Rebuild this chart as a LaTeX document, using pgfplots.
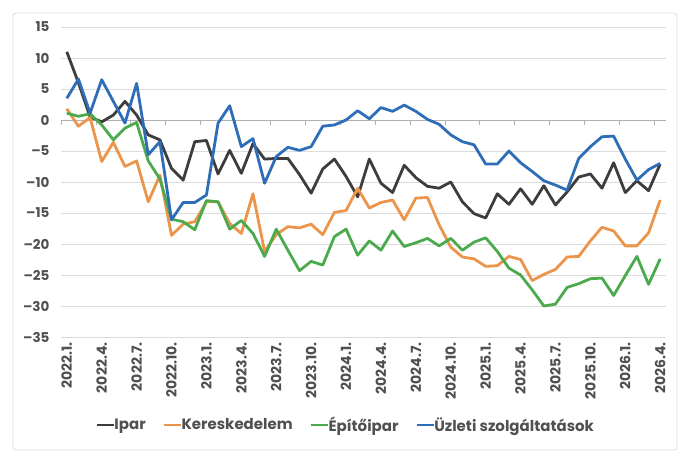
\documentclass[border=0pt]{standalone}
\usepackage{fontspec}
\setmainfont{Poppins}
\usepackage{pgfplots}
\usepackage{pgfplotstable}
\pgfplotsset{compat=1.18}
\definecolor{cIpar}{HTML}{3D3D3D}
\definecolor{cKer}{HTML}{EC954A}
\definecolor{cEpit}{HTML}{4CAA4E}
\definecolor{cUzl}{HTML}{2E6DB8}
\definecolor{gridc}{HTML}{DCDCDC}
\definecolor{labc}{HTML}{505050}
\pgfplotstableread{
i ipar ker epit uzl
0 11.0 1.8 1.1 3.5
1 6.0 -1.0 0.6 6.6
2 0.5 0.4 1.0 1.1
3 -0.3 -6.7 -0.8 6.5
4 0.8 -3.6 -3.2 3.0
5 3.0 -7.5 -1.3 -0.5
6 0.8 -6.6 -0.4 5.9
7 -2.4 -13.2 -6.6 -5.6
8 -3.2 -8.9 -9.5 -3.5
9 -7.8 -18.6 -16.0 -16.1
10 -9.7 -16.8 -16.4 -13.3
11 -3.5 -16.4 -17.7 -13.3
12 -3.3 -13.2 -13.0 -12.1
13 -8.7 -13.2 -13.2 -0.5
14 -4.9 -16.7 -17.6 2.3
15 -8.6 -18.3 -16.2 -4.3
16 -3.8 -11.9 -18.3 -3.0
17 -6.3 -21.2 -22.0 -10.2
18 -6.2 -18.5 -17.6 -5.9
19 -6.2 -17.2 -21.0 -4.4
20 -8.8 -17.4 -24.3 -4.9
21 -11.8 -16.8 -22.8 -4.3
22 -7.9 -18.5 -23.4 -1.0
23 -6.3 -14.9 -18.8 -0.8
24 -9.1 -14.6 -17.6 0.0
25 -12.4 -11.0 -21.8 1.5
26 -6.3 -14.2 -19.5 0.2
27 -10.2 -13.3 -21.0 2.0
28 -11.7 -12.9 -17.9 1.4
29 -7.3 -16.1 -20.4 2.4
30 -9.3 -12.6 -19.8 1.4
31 -10.7 -12.5 -19.1 0.1
32 -11.0 -16.9 -20.3 -0.7
33 -10.0 -20.5 -19.1 -2.4
34 -13.2 -22.1 -21.0 -3.5
35 -15.1 -22.4 -19.7 -4.0
36 -15.8 -23.6 -19.0 -7.1
37 -11.9 -23.5 -21.2 -7.1
38 -13.6 -22.0 -23.9 -5.0
39 -11.1 -22.5 -25.0 -6.9
40 -13.6 -25.9 -27.4 -8.3
41 -10.6 -24.9 -30.0 -9.8
42 -13.7 -24.1 -29.7 -10.5
43 -11.6 -22.1 -27.0 -11.3
44 -9.2 -22.0 -26.4 -6.2
45 -8.7 -19.5 -25.6 -4.3
46 -11.0 -17.3 -25.5 -2.7
47 -6.9 -17.9 -28.3 -2.6
48 -11.7 -20.3 -25.1 -6.3
49 -9.8 -20.3 -22.0 -9.7
50 -11.4 -18.2 -26.5 -8.0
51 -7.1 -12.9 -22.4 -7.0
}\data
\begin{document}
\begin{tikzpicture}
\draw[color=gridc, line width=0.8pt, rounded corners=3pt] (13pt,14pt) rectangle (677pt,451pt);
\begin{axis}[
  at={(61pt,127pt)}, anchor=south west,
  scale only axis, width=605pt, height=310pt,
  xmin=-0.5, xmax=51.5, ymin=-35, ymax=15,
  axis line style={draw=none},
  major tick length=0pt,
  ymajorgrids, grid style={color=gridc, line width=0.8pt},
  ytick={-35,-30,...,15},
  yticklabels={--35,--30,--25,--20,--15,--10,--5,0,5,10,15},
  y tick label style={font=\fontsize{13.5}{15}\selectfont\bfseries, text=labc, xshift=-8pt},
  xtick={0,3,...,51},
  xticklabels={2022.1.,2022.4.,2022.7.,2022.10.,2023.1.,2023.4.,2023.7.,2023.10.,2024.1.,2024.4.,2024.7.,2024.10.,2025.1.,2025.4.,2025.7.,2025.10.,2026.1.,2026.4.},
  x tick label style={rotate=90, anchor=east, font=\fontsize{14}{15}\selectfont\bfseries, text=labc, xshift=-2pt},
  legend columns=4,
  legend style={at={(axis description cs:0.47,-0.284)}, anchor=center, draw=none, fill=none,
    font=\fontsize{15}{17}\selectfont\bfseries, text=labc,
    nodes={inner xsep=1pt},
    /tikz/every odd column/.append style={column sep=-2pt},
    /tikz/every even column/.append style={column sep=16pt}},
  legend image code/.code={\draw[line width=2.8pt] (0pt,0pt) -- (17pt,0pt);},
  every axis plot/.append style={line width=2.8pt, line join=round, mark=none},
]
\draw[color=gridc!80!black, line width=0.8pt] (axis cs:-0.5,0) -- (axis cs:51.5,0);
\pgfplotsinvokeforeach{-0.5,2.5,5.5,8.5,11.5,14.5,17.5,20.5,23.5,26.5,29.5,32.5,35.5,38.5,41.5,44.5,47.5,50.5}{
  \draw[color=gridc!80!black, line width=0.8pt] (axis cs:#1,0) -- ([yshift=-5pt]axis cs:#1,0);
}
\addplot[color=cIpar] table[x=i, y=ipar] {\data};
\addlegendentry{Ipar}
\addplot[color=cKer] table[x=i, y=ker] {\data};
\addlegendentry{Kereskedelem}
\addplot[color=cEpit] table[x=i, y=epit] {\data};
\addlegendentry{Építőipar}
\addplot[color=cUzl] table[x=i, y=uzl] {\data};
\addlegendentry{Üzleti szolgáltatások}
\end{axis}
\pgfresetboundingbox
\useasboundingbox (0pt,0pt) rectangle (690pt,464pt);
\end{tikzpicture}
\end{document}
